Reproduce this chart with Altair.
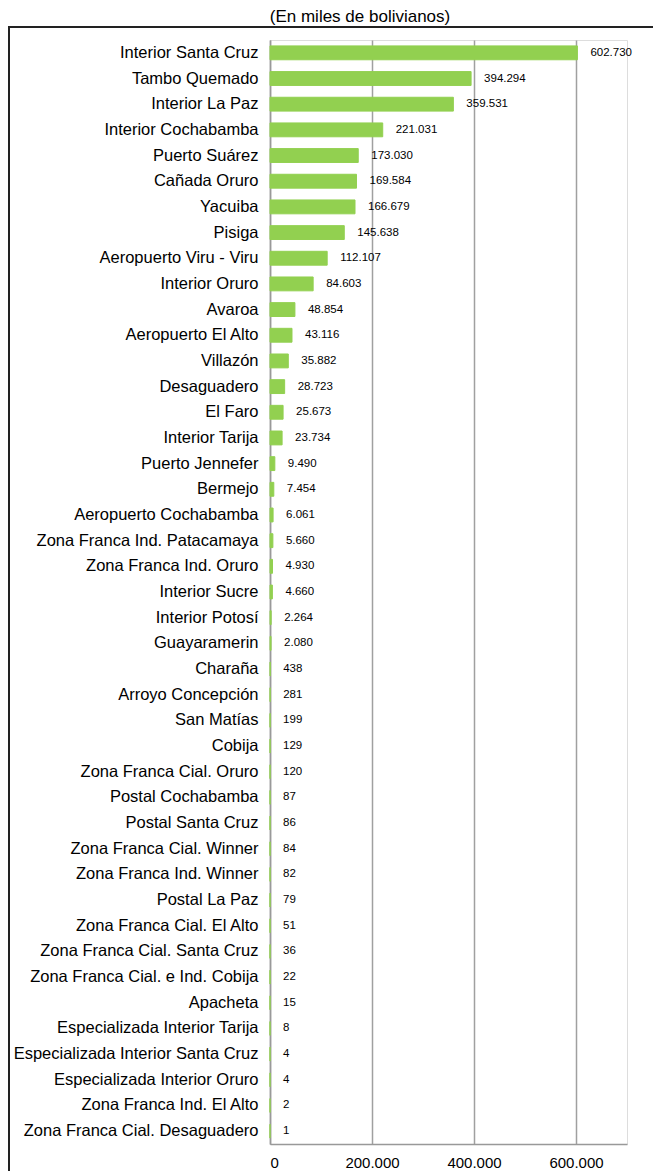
import altair as alt
import pandas as pd

categories = [
    "Interior Santa Cruz", "Tambo Quemado", "Interior La Paz", "Interior Cochabamba",
    "Puerto Suárez", "Cañada Oruro", "Yacuiba", "Pisiga", "Aeropuerto Viru - Viru",
    "Interior Oruro", "Avaroa", "Aeropuerto El Alto", "Villazón", "Desaguadero",
    "El Faro", "Interior Tarija", "Puerto Jennefer", "Bermejo", "Aeropuerto Cochabamba",
    "Zona Franca Ind. Patacamaya", "Zona Franca Ind. Oruro", "Interior Sucre",
    "Interior Potosí", "Guayaramerin", "Charaña", "Arroyo Concepción", "San Matías",
    "Cobija", "Zona Franca Cial. Oruro", "Postal Cochabamba", "Postal Santa Cruz",
    "Zona Franca Cial. Winner", "Zona Franca Ind. Winner", "Postal La Paz",
    "Zona Franca Cial. El Alto", "Zona Franca Cial. Santa Cruz",
    "Zona Franca Cial. e Ind. Cobija", "Apacheta", "Especializada Interior Tarija",
    "Especializada Interior Santa Cruz", "Especializada Interior Oruro",
    "Zona Franca Ind. El Alto", "Zona Franca Cial. Desaguadero",
]
values = [
    602730, 394294, 359531, 221031, 173030, 169584, 166679, 145638, 112107,
    84603, 48854, 43116, 35882, 28723, 25673, 23734, 9490, 7454, 6061,
    5660, 4930, 4660, 2264, 2080, 438, 281, 199, 129, 120, 87, 86, 84, 82, 79,
    51, 36, 22, 15, 8, 4, 4, 2, 1,
]
x_ticks = [0, 200000, 400000, 600000]
title_text = "(En miles de bolivianos)"

df = pd.DataFrame({"cat": categories, "val": values})
one = pd.DataFrame({"t": [title_text]})

FONT = "Liberation Sans"
GREEN = "#92D050"

y_enc = alt.Y(
    "cat:N", sort=categories, title=None,
    scale=alt.Scale(paddingInner=0.46, paddingOuter=0.23),
    axis=alt.Axis(ticks=False, labelPadding=12, labelFont=FONT, labelFontSize=16.5,
                  labelColor="#000000", domainColor="#999999", domainWidth=1.5,
                  grid=False, labelLimit=400),
)
x_enc = alt.X(
    "val:Q", title=None,
    scale=alt.Scale(domain=[0, 700000], nice=False),
    axis=alt.Axis(values=x_ticks, format=",.0f", ticks=False, labelPadding=11,
                  labelFont=FONT, labelFontSize=15, labelColor="#000000",
                  domainColor="#999999", domainWidth=1.5,
                  grid=True, gridColor="#a0a0a0", gridWidth=1.5),
)

bars = alt.Chart(df).mark_bar(color=GREEN, stroke=GREEN, strokeWidth=1).encode(
    x=x_enc, y=y_enc
)

labels = alt.Chart(df).mark_text(
    align="left", dx=13, font=FONT, fontSize=11.5, color="#000000", baseline="middle"
).encode(
    x=alt.X("val:Q"), y=alt.Y("cat:N", sort=categories),
    text=alt.Text("val:Q", format=",.0f")
)

frame = alt.Chart(one).mark_rect(
    fill=None, stroke="#222222", strokeWidth=2, clip=False
).encode(
    x=alt.value(-261), x2=alt.value(430), y=alt.value(-13), y2=alt.value(1200)
)

title = alt.Chart(one).mark_text(
    font=FONT, fontSize=17, color="#000000", align="center", baseline="alphabetic"
).encode(
    x=alt.value(90), y=alt.value(-18), text="t:N"
)

chart = alt.layer(frame, bars, labels, title).properties(
    width=357, height=1104,
    autosize=alt.AutoSizeParams(type="none"),
    padding={"left": 262, "top": 32, "right": 26, "bottom": 29},
).configure_view(
    stroke="#555555", strokeWidth=1.5
).configure(
    locale={"number": {"decimal": ",", "thousands": ".", "grouping": [3], "currency": ["", ""]}}
)

chart.save("out.html", embed_options={"renderer": "svg", "actions": False})
